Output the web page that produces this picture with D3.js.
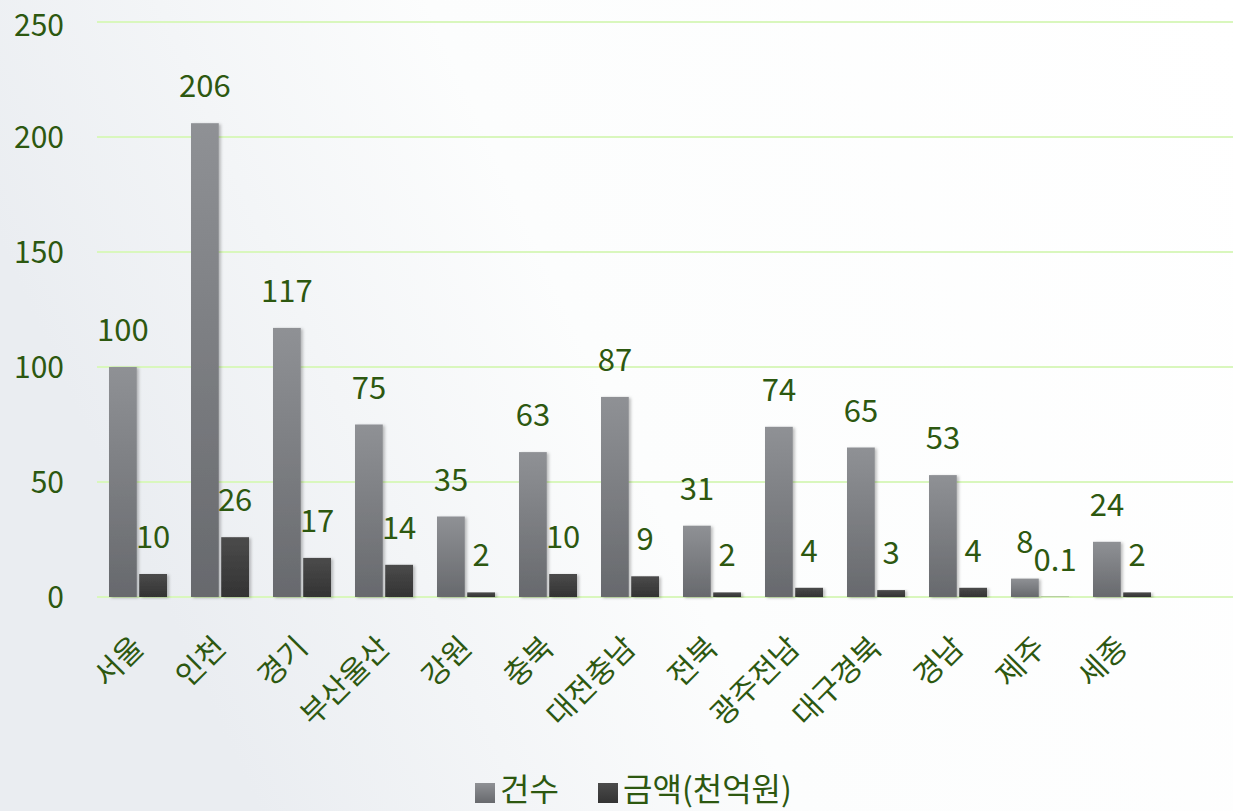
<!DOCTYPE html>
<html>
<head>
<meta charset="utf-8">
<script src="https://cdn.jsdelivr.net/npm/d3@7"></script>
<style>
  body { margin: 0; padding: 0; overflow: hidden; }
  svg text { font-family: "Noto Sans CJK KR", "Noto Sans", sans-serif; fill: #2d5810; }
</style>
</head>
<body>
<div id="chart"></div>
<script>
// regions and the two series
var regions = ["서울", "인천", "경기", "부산울산", "강원", "충북", "대전충남", "전북", "광주전남", "대구경북", "경남", "제주", "세종"];
var countValues = [100, 206, 117, 75, 35, 63, 87, 31, 74, 65, 53, 8, 24];
var amountValues = [10, 26, 17, 14, 2, 10, 9, 2, 4, 3, 4, 0.1, 2];
var seriesNames = ["건수", "금액(천억원)"];
var yTicks = [0, 50, 100, 150, 200, 250];

var W = 1233, H = 811;
var svg = d3.select("#chart").append("svg").attr("width", W).attr("height", H);

var defs = svg.append("defs");
var bg = defs.append("linearGradient").attr("id", "bg").attr("x1", 0).attr("y1", 0.3).attr("x2", 1).attr("y2", 0);
bg.append("stop").attr("offset", "0%").attr("stop-color", "#eaedf1");
bg.append("stop").attr("offset", "40%").attr("stop-color", "#fcfdfd");
bg.append("stop").attr("offset", "100%").attr("stop-color", "#ffffff");
var g1 = defs.append("linearGradient").attr("id", "gCount").attr("x1", 0).attr("y1", 0).attr("x2", 0).attr("y2", 1);
g1.append("stop").attr("offset", "0%").attr("stop-color", "#8f9195");
g1.append("stop").attr("offset", "100%").attr("stop-color", "#67696d");
var g2 = defs.append("linearGradient").attr("id", "gAmount").attr("x1", 0).attr("y1", 0).attr("x2", 0).attr("y2", 1);
g2.append("stop").attr("offset", "0%").attr("stop-color", "#4b4b4b");
g2.append("stop").attr("offset", "100%").attr("stop-color", "#333333");
var sh = defs.append("filter").attr("id", "shadow").attr("x", "-20%").attr("y", "-5%").attr("width", "150%").attr("height", "115%");
sh.append("feDropShadow").attr("dx", 2).attr("dy", 1).attr("stdDeviation", 1.5).attr("flood-color", "#000").attr("flood-opacity", 0.25);

svg.append("rect").attr("width", W).attr("height", H).attr("fill", "url(#bg)");

var y = d3.scaleLinear().domain([0, 250]).range([597, 22]);
var x0 = d3.scaleBand().domain(regions).range([97, 1163]);
var x1 = d3.scaleBand().domain([0, 1]).range([12, 70]).paddingInner(0.08);

// gridlines
svg.append("g").selectAll("line").data(yTicks).enter().append("line")
  .attr("x1", 97).attr("x2", W)
  .attr("y1", function(d) { return y(d); }).attr("y2", function(d) { return y(d); })
  .attr("stroke", "#d9f7bd").attr("stroke-width", 2);

// y axis labels (top one nudged down so it stays inside the page)
var yAxis = svg.append("g").attr("transform", "translate(64,0)")
  .call(d3.axisLeft(y).tickValues(yTicks).tickSize(0).tickPadding(0));
yAxis.select(".domain").remove();
yAxis.selectAll("text").style("font-size", "30px")
  .attr("dy", function(d) { return d === 250 ? "0.45em" : "0.35em"; });

var series = [countValues, amountValues];
var fills = ["url(#gCount)", "url(#gAmount)"];

series.forEach(function(vals, s) {
  var grp = svg.append("g");
  grp.selectAll("rect").data(vals).enter().append("rect")
    .attr("x", function(d, i) { return x0(regions[i]) + x1(s); })
    .attr("width", x1.bandwidth())
    .attr("y", function(d) { return y(d); })
    .attr("height", function(d) { return y(0) - y(d); })
    .attr("fill", fills[s])
    .attr("filter", "url(#shadow)");
  grp.selectAll("text").data(vals).enter().append("text")
    .attr("x", function(d, i) { return x0(regions[i]) + x1(s) + x1.bandwidth() / 2; })
    .attr("y", function(d) { return y(d) - 26; })
    .attr("text-anchor", "middle")
    .style("font-size", "31px")
    .text(function(d) { return d; });
});

// x axis labels, rotated
var xAxis = svg.append("g").attr("transform", "translate(0,600)")
  .call(d3.axisBottom(x0).tickSize(0).tickPadding(0));
xAxis.select(".domain").remove();
xAxis.selectAll("text")
  .style("font-size", "30px")
  .attr("text-anchor", "end")
  .attr("transform", "translate(0,42) rotate(-45)")
  .attr("dy", "0.35em").attr("y", 0).attr("x", 0);

// legend
var legend = svg.append("g").attr("transform", "translate(475,790)");
var legX = [0, 123];
seriesNames.forEach(function(name, s) {
  legend.append("rect").attr("x", legX[s]).attr("y", -7).attr("width", 20).attr("height", 20).attr("fill", fills[s]);
  legend.append("text").attr("x", legX[s] + 25).attr("y", 0).attr("dy", "0.35em")
    .style("font-size", "32px").text(name);
});
</script>
</body>
</html>
